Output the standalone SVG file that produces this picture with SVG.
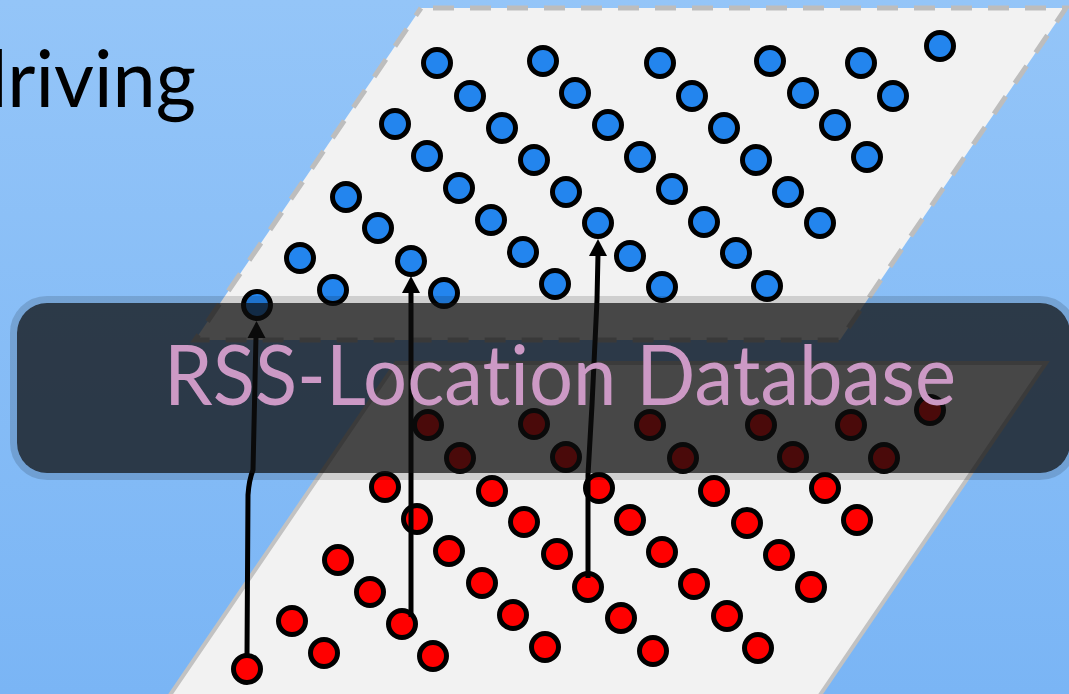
<svg xmlns="http://www.w3.org/2000/svg" width="1069" height="694" viewBox="0 0 1069 694">
<defs>
<linearGradient id="bg" x1="0" y1="0" x2="0" y2="1">
<stop offset="0" stop-color="#94c5f8"/>
<stop offset="1" stop-color="#7ab5f5"/>
</linearGradient>
<style>
.b{fill:#2385ee;stroke:#000;stroke-width:5}
.r{fill:#ff0000;stroke:#000;stroke-width:5}
.arr{fill:none;stroke:#000;stroke-width:5;stroke-linejoin:round}
.head{fill:#000}
.t{font-family:Lato,"Open Sans","DejaVu Sans",sans-serif;font-variant-ligatures:none;font-feature-settings:"liga" 0,"dlig" 0}
</style>
</defs>
<rect x="0" y="0" width="1069" height="694" fill="url(#bg)"/>
<text class="t" x="234" y="-14" font-size="80" fill="#000">y</text>
<text class="t" x="-36" y="107" font-size="80" fill="#000" textLength="232" lengthAdjust="spacingAndGlyphs">driving</text>
<g id="plane-top">
<polygon points="421,8 1066,8 840,340 195,340" fill="#f2f2f2" stroke="#bdbdbd" stroke-width="5" stroke-dasharray="21,16" stroke-dashoffset="-12"/>
</g>
<g id="plane-bottom">
<polygon points="396,363 1046,363 803,720 153,720" fill="#f2f2f2" stroke="#c2c2c2" stroke-width="4"/>
</g>
<g id="blue-dots">
<circle class="b" cx="437" cy="63" r="13.5"/><circle class="b" cx="470" cy="96" r="13.5"/><circle class="b" cx="502" cy="128" r="13.5"/><circle class="b" cx="534" cy="160" r="13.5"/><circle class="b" cx="566" cy="192" r="13.5"/><circle class="b" cx="598" cy="223" r="13.5"/><circle class="b" cx="630" cy="256" r="13.5"/><circle class="b" cx="662" cy="287" r="13.5"/>
<circle class="b" cx="543" cy="61" r="13.5"/><circle class="b" cx="575" cy="93" r="13.5"/><circle class="b" cx="608" cy="125" r="13.5"/><circle class="b" cx="640" cy="157" r="13.5"/><circle class="b" cx="672" cy="189" r="13.5"/><circle class="b" cx="704" cy="222" r="13.5"/><circle class="b" cx="736" cy="253" r="13.5"/><circle class="b" cx="767" cy="286" r="13.5"/>
<circle class="b" cx="660" cy="63" r="13.5"/><circle class="b" cx="692" cy="96" r="13.5"/><circle class="b" cx="724" cy="128" r="13.5"/><circle class="b" cx="756" cy="160" r="13.5"/><circle class="b" cx="788" cy="192" r="13.5"/><circle class="b" cx="820" cy="223" r="13.5"/>
<circle class="b" cx="770" cy="61" r="13.5"/><circle class="b" cx="803" cy="93" r="13.5"/><circle class="b" cx="835" cy="125" r="13.5"/><circle class="b" cx="867" cy="157" r="13.5"/>
<circle class="b" cx="861" cy="63" r="13.5"/><circle class="b" cx="893" cy="96" r="13.5"/>
<circle class="b" cx="940" cy="46" r="13.5"/>
<circle class="b" cx="395" cy="124" r="13.5"/><circle class="b" cx="427" cy="156" r="13.5"/><circle class="b" cx="459" cy="188" r="13.5"/><circle class="b" cx="491" cy="220" r="13.5"/><circle class="b" cx="523" cy="252" r="13.5"/><circle class="b" cx="555" cy="284" r="13.5"/>
<circle class="b" cx="346" cy="197" r="13.5"/><circle class="b" cx="378" cy="228" r="13.5"/><circle class="b" cx="411" cy="261" r="13.5"/><circle class="b" cx="444" cy="293" r="13.5"/>
<circle class="b" cx="300" cy="258" r="13.5"/><circle class="b" cx="333" cy="290" r="13.5"/>
<circle class="b" cx="257" cy="305" r="13.5"/>
</g>
<g id="red-dots">
<circle class="r" cx="428" cy="425" r="13.5"/><circle class="r" cx="460" cy="458" r="13.5"/><circle class="r" cx="492" cy="491" r="13.5"/><circle class="r" cx="524" cy="522" r="13.5"/><circle class="r" cx="557" cy="554" r="13.5"/><circle class="r" cx="588" cy="587" r="13.5"/><circle class="r" cx="621" cy="618" r="13.5"/><circle class="r" cx="653" cy="651" r="13.5"/>
<circle class="r" cx="534" cy="424" r="13.5"/><circle class="r" cx="566" cy="457" r="13.5"/><circle class="r" cx="599" cy="488" r="13.5"/><circle class="r" cx="630" cy="520" r="13.5"/><circle class="r" cx="662" cy="552" r="13.5"/><circle class="r" cx="694" cy="584" r="13.5"/><circle class="r" cx="727" cy="616" r="13.5"/><circle class="r" cx="758" cy="648" r="13.5"/>
<circle class="r" cx="650" cy="425" r="13.5"/><circle class="r" cx="683" cy="458" r="13.5"/><circle class="r" cx="714" cy="491" r="13.5"/><circle class="r" cx="747" cy="523" r="13.5"/><circle class="r" cx="779" cy="555" r="13.5"/><circle class="r" cx="811" cy="587" r="13.5"/>
<circle class="r" cx="761" cy="425" r="13.5"/><circle class="r" cx="793" cy="457" r="13.5"/><circle class="r" cx="825" cy="488" r="13.5"/><circle class="r" cx="857" cy="520" r="13.5"/>
<circle class="r" cx="851" cy="425" r="13.5"/><circle class="r" cx="884" cy="458" r="13.5"/>
<circle class="r" cx="930" cy="410" r="13.5"/>
<circle class="r" cx="385" cy="487" r="13.5"/><circle class="r" cx="417" cy="519" r="13.5"/><circle class="r" cx="449" cy="551" r="13.5"/><circle class="r" cx="482" cy="583" r="13.5"/><circle class="r" cx="513" cy="615" r="13.5"/><circle class="r" cx="545" cy="647" r="13.5"/>
<circle class="r" cx="338" cy="560" r="13.5"/><circle class="r" cx="370" cy="592" r="13.5"/><circle class="r" cx="402" cy="624" r="13.5"/><circle class="r" cx="433" cy="656" r="13.5"/>
<circle class="r" cx="292" cy="621" r="13.5"/><circle class="r" cx="324" cy="653" r="13.5"/>
<circle class="r" cx="247" cy="669" r="13.5"/>
</g>
<g id="connectors">
<path class="arr" d="M247,656 L248,495 Q249,480 253,470 L256,336"/>
<polygon class="head" points="256.5,321 265.5,338 247.5,338"/>
<path class="arr" d="M411,617 L411,291"/>
<polygon class="head" points="411,276 420,293 402,293"/>
<path class="arr" d="M588,578 L588,475 L592,405 L597,300 L598,254"/>
<polygon class="head" points="598,239 607,256 589,256"/>
</g>
<g id="database">
<rect x="13.5" y="299.5" width="1060" height="177" rx="33.5" fill="none" stroke="#000" stroke-opacity="0.14" stroke-width="7"/>
<rect x="17" y="303" width="1053" height="170" rx="30" fill="#0d0d0d" fill-opacity="0.75"/>
<text class="t" x="164" y="405" font-size="84" fill="#cc99c5" textLength="792" lengthAdjust="spacingAndGlyphs">RSS-Location Database</text>
</g>
</svg>
